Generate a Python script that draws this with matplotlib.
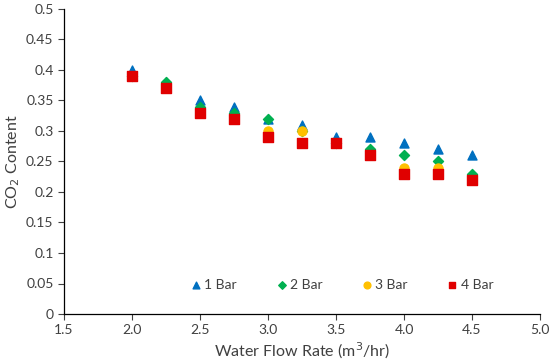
import numpy as np
import matplotlib.pyplot as plt

plt.rcParams['font.family'] = ['Lato', 'DejaVu Sans']

# Data
flow = [2.0, 2.25, 2.5, 2.75, 3.0, 3.25, 3.5, 3.75, 4.0, 4.25, 4.5]
bar1 = [0.40, 0.38, 0.35, 0.34, 0.32, 0.31, 0.29, 0.29, 0.28, 0.27, 0.26]
bar2 = [0.39, 0.38, 0.34, 0.33, 0.32, 0.30, 0.28, 0.27, 0.26, 0.25, 0.23]
bar3 = [0.39, 0.37, 0.33, 0.32, 0.30, 0.30, 0.28, 0.26, 0.24, 0.24, 0.22]
bar4 = [0.39, 0.37, 0.33, 0.32, 0.29, 0.28, 0.28, 0.26, 0.23, 0.23, 0.22]
labels = ['1 Bar', '2 Bar', '3 Bar', '4 Bar']

fig = plt.figure(figsize=(5.5, 3.64), dpi=100)
ax = fig.add_axes([64/550, 50/364, 476/550, 305/364])

ax.scatter(flow, bar1, marker='^', s=42, color='#0070C0', label=labels[0], zorder=3)
ax.scatter(flow, bar2, marker='D', s=26, color='#00B050', label=labels[1], zorder=4)
ax.scatter(flow, bar3, marker='o', s=42, color='#FFC000', label=labels[2], zorder=5)
ax.scatter(flow, bar4, marker='s', s=42, color='#E00000', label=labels[3], zorder=6)

ax.set_xlim(1.5, 5.0)
ax.set_ylim(0, 0.5)
ax.set_xticks(np.arange(1.5, 5.01, 0.5))
ax.set_xticklabels([f'{v:.1f}' for v in np.arange(1.5, 5.01, 0.5)])
ax.set_yticks(np.arange(0, 0.501, 0.05))
ax.set_yticklabels(['0', '0.05', '0.1', '0.15', '0.2', '0.25', '0.3', '0.35', '0.4', '0.45', '0.5'])
ax.tick_params(labelsize=10, colors='#404040', length=4, width=0.8)
for side in ['top', 'right']:
    ax.spines[side].set_visible(False)
for side in ['left', 'bottom']:
    ax.spines[side].set_color('black')
    ax.spines[side].set_linewidth(0.9)

ax.set_xlabel('Water Flow Rate (m$^3$/hr)', fontsize=11.5, color='#404040', labelpad=3)
ax.set_ylabel('CO$_2$ Content', fontsize=11.5, color='#404040', labelpad=3)

leg = ax.legend(loc='center', bbox_to_anchor=(0.575, 0.095), ncol=4, frameon=False,
                fontsize=10, handletextpad=-0.4, columnspacing=2.2, markerscale=0.75)
for t in leg.get_texts():
    t.set_color('#404040')

fig.savefig('out.png', dpi=100)
